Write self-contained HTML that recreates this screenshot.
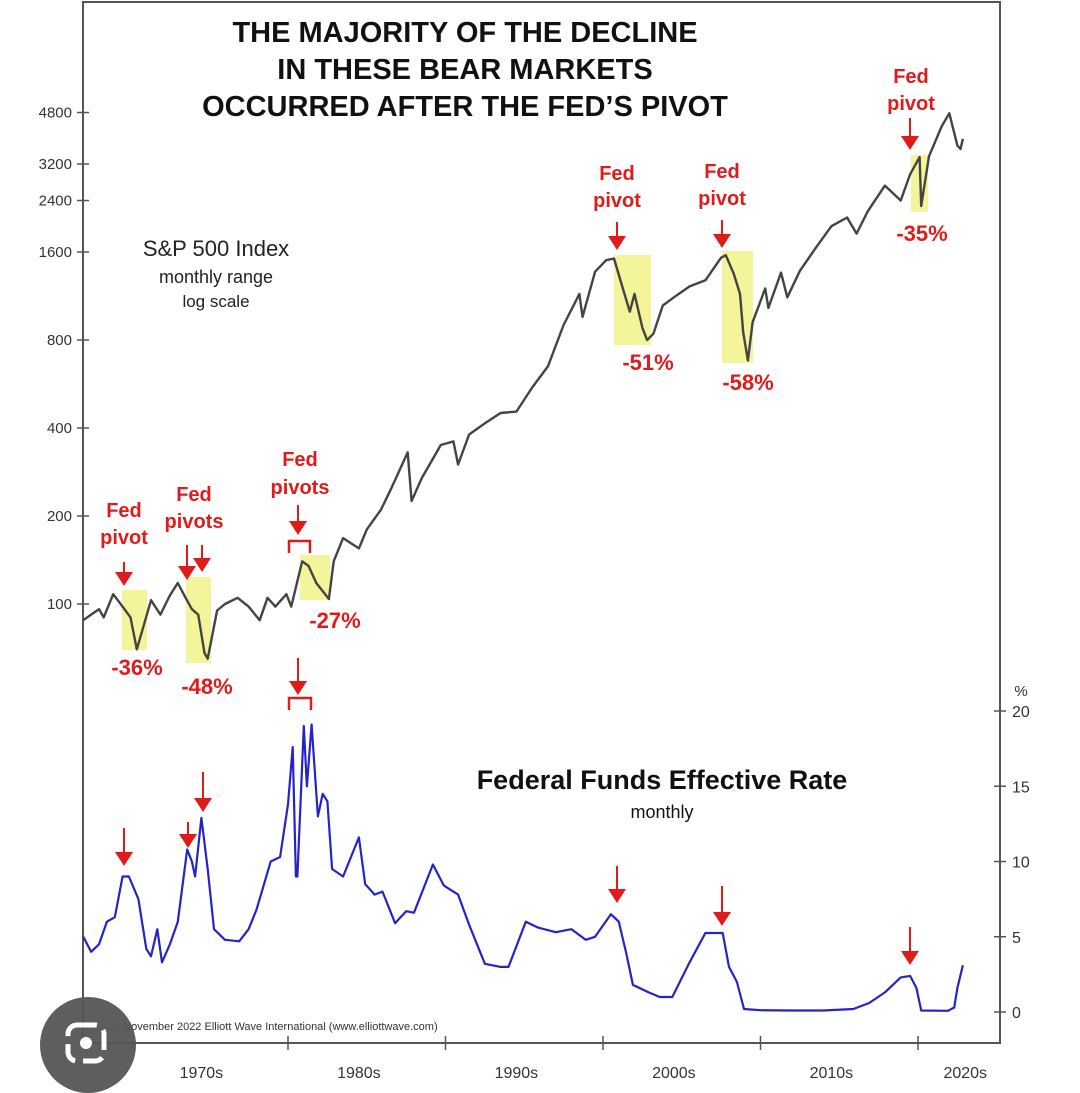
<!DOCTYPE html>
<html><head><meta charset="utf-8">
<style>
body{margin:0;background:#fff;}
svg{display:block;font-family:"Liberation Sans",Arial,sans-serif;}
</style></head>
<body>
<svg id="chart" width="1080" height="1093" viewBox="0 0 1080 1093" xmlns="http://www.w3.org/2000/svg">
<rect x="0" y="0" width="1080" height="1093" fill="#fff"/>
<g id="hl"></g>
<rect x="83" y="2" width="917" height="1041" fill="none" stroke="#555" stroke-width="2"/>
<g font-weight="bold" font-size="29" text-anchor="middle" fill="#111">
<text x="465" y="42">THE MAJORITY OF THE DECLINE</text>
<text x="465" y="79">IN THESE BEAR MARKETS</text>
<text x="465" y="116">OCCURRED AFTER THE FED’S PIVOT</text>
</g>
<g text-anchor="middle" fill="#222">
<text x="216" y="256" font-size="22">S&amp;P 500 Index</text>
<text x="216" y="283" font-size="18">monthly range</text>
<text x="216" y="307" font-size="17">log scale</text>
</g>
<g text-anchor="middle" fill="#111">
<text x="662" y="789" font-size="27" font-weight="bold">Federal Funds Effective Rate</text>
<text x="662" y="818" font-size="18">monthly</text>
</g>
<g id="axes"></g>
<polyline id="spline" fill="none" stroke="#444" stroke-width="2.4" stroke-linejoin="round"/>
<polyline id="ffline" fill="none" stroke="#2424c8" stroke-width="2.2" stroke-linejoin="round"/>
<g id="ann" fill="#e01b1b" font-weight="bold" text-anchor="middle"></g>
<text x="112" y="1030" font-size="11" fill="#333">© November 2022 Elliott Wave International (www.elliottwave.com)</text>
<circle cx="88" cy="1045" r="48" fill="#555" opacity="0.95"/>
<rect x="68" y="1025" width="36" height="36" rx="9" fill="none" stroke="#fff" stroke-width="5" stroke-dasharray="20 8"/>
<circle cx="86" cy="1043" r="6" fill="#fff"/>
</svg>
<script>
const spYears=[1967,1967.5,1968,1968.3,1968.9,1969.5,1970,1970.4,1970.8,1971.3,1971.9,1972.5,1973,1973.5,1973.9,1974.3,1974.7,1974.9,1975.5,1976,1976.8,1977.5,1978.2,1978.7,1979.2,1979.9,1980.2,1980.9,1981.3,1981.8,1982.6,1982.9,1983.5,1984.5,1985,1985.9,1986.5,1987.6,1987.85,1988.5,1989.7,1990.5,1990.8,1991.5,1992.5,1993.5,1994.5,1995.5,1996.5,1997.5,1998.5,1998.7,1999.5,2000.2,2000.7,2001.3,2001.7,2002,2002.5,2002.8,2003.2,2003.8,2004.5,2005.5,2006.5,2007.5,2007.8,2008.3,2008.7,2008.9,2009.2,2009.5,2010.3,2010.5,2011.3,2011.7,2012.5,2013.5,2014.5,2015.5,2016.1,2016.8,2017.9,2018.9,2019.5,2020.1,2020.2,2020.7,2021.5,2021.99,2022.5,2022.7,2022.85];
const spValues=[88,92,96,90,108,98,90,70,83,103,92,107,118,105,96,92,68,65,95,100,105,98,88,105,98,108,98,140,135,118,104,140,168,155,180,210,245,330,225,270,350,360,300,380,415,450,455,550,650,900,1150,960,1370,1500,1520,1180,1000,1150,880,800,840,1050,1120,1220,1280,1530,1560,1350,1150,850,680,920,1200,1030,1360,1120,1380,1650,1960,2100,1850,2200,2700,2400,2950,3380,2300,3400,4300,4770,3700,3600,3900];
const ffYears=[1967,1967.5,1968,1968.5,1969,1969.5,1969.9,1970.5,1971,1971.3,1971.7,1972,1972.5,1973,1973.6,1973.9,1974.1,1974.5,1974.9,1975.3,1976,1976.9,1977.5,1978,1978.9,1979.5,1980,1980.3,1980.5,1980.6,1981,1981.2,1981.5,1981.9,1982.2,1982.5,1982.8,1983.5,1984.5,1984.9,1985.5,1986,1986.8,1987.5,1988,1989.2,1989.9,1990.8,1991.5,1992.5,1993.5,1994,1995.1,1995.9,1997,1998,1998.9,1999.5,2000.5,2001,2001.5,2001.9,2002.9,2003.6,2004.4,2005.5,2006.5,2007.6,2008,2008.5,2008.95,2010,2012,2014,2015.9,2016.9,2017.9,2018.9,2019.5,2019.9,2020.2,2021.9,2022.3,2022.5,2022.85];
const ffValues=[5.0,4.0,4.5,6.0,6.3,9.0,9.0,7.5,4.2,3.7,5.5,3.3,4.5,6.0,10.8,10.0,9.0,12.9,9.5,5.5,4.8,4.7,5.5,6.8,10.0,10.3,13.8,17.6,9.0,9.0,19.0,15,19.1,13,14.5,14,9.5,9.0,11.6,8.5,7.8,8,5.9,6.7,6.6,9.8,8.4,7.8,5.8,3.2,3.0,3.0,6.0,5.6,5.3,5.5,4.8,5.0,6.5,6.0,3.8,1.8,1.3,1.0,1.0,3.3,5.25,5.25,3.0,2.0,0.2,0.12,0.1,0.1,0.2,0.6,1.3,2.3,2.4,1.6,0.1,0.08,0.3,1.6,3.1];
const spTicks=[100,200,400,800,1600,2400,3200,4800];
const ffTicks=[0,5,10,15,20];
const decadeTicks=[1980,1990,2000,2010,2020];
const decadeLabels=["1970s","1980s","1990s","2000s","2010s","2020s"];
const decadeLabelYears=[1974.5,1984.5,1994.5,2004.5,2014.5,2023];

const X=y=>288+(y-1980)*15.75;
const YS=v=>604-88*Math.log2(v/100);
const YF=r=>1012-15.05*r;
const NS="http://www.w3.org/2000/svg";
function mk(tag,attrs,parent){const e=document.createElementNS(NS,tag);for(const k in attrs)e.setAttribute(k,attrs[k]);parent.appendChild(e);return e;}

document.getElementById('spline').setAttribute('points',spYears.map((y,i)=>X(y).toFixed(1)+','+YS(spValues[i]).toFixed(1)).join(' '));
document.getElementById('ffline').setAttribute('points',ffYears.map((y,i)=>X(y).toFixed(1)+','+YF(ffValues[i]).toFixed(1)).join(' '));

const axes=document.getElementById('axes');
spTicks.forEach(v=>{
  const y=YS(v);
  const l=mk('line',{x1:77,x2:89,y1:y,y2:y,stroke:'#555','stroke-width':1.5},axes);
  
  
  const t=mk('text',{x:72,y:y+5,'font-size':15,'text-anchor':'end',fill:'#333'},axes);
  t.textContent=v;
  
  
});
ffTicks.forEach(v=>{
  const y=YF(v);
  const l=mk('line',{x1:994,x2:1006,y1:y,y2:y,stroke:'#555','stroke-width':1.5},axes);
  
  
  const t=mk('text',{x:1012,y:y+6,'font-size':16,fill:'#333'},axes);
  t.textContent=v;
  
  
});
const pc=mk('text',{x:1021,y:696,'font-size':15,'text-anchor':'middle',fill:'#333'},axes);pc.textContent='%';


decadeTicks.forEach(d=>{
  const l=mk('line',{x1:X(d),x2:X(d),y1:1036,y2:1050,stroke:'#555','stroke-width':1.5},axes);
  
  
});
decadeLabels.forEach((s,i)=>{
  const t=mk('text',{x:X(decadeLabelYears[i]),y:1078,'font-size':16,'text-anchor':'middle',fill:'#333'},axes);
  t.textContent=s;
  
  
});

const hl=document.getElementById('hl');
[[122,590,25,60],[186,577,25,86],[300,555,30,45],[614,255,37,90],[722,251,31,112],[911,155,17,57]].forEach(b=>{
  const r=mk('rect',{x:b[0],y:b[1],width:b[2],height:b[3],fill:'#f4f49a'},hl);
  
  
});

const ann=document.getElementById('ann');
function arrow(x,y1,y2){
  const g=mk('g',{},ann);
  
  
  mk('line',{x1:x,x2:x,y1:y1,y2:y2-12,stroke:'#e01b1b','stroke-width':2},g);
  mk('polygon',{points:`${x-9},${y2-14} ${x+9},${y2-14} ${x},${y2}`,fill:'#e01b1b'},g);
}
function txt(x,y,s,fs){const t=mk('text',{x:x,y:y,'font-size':fs},ann);t.textContent=s;
  
  }
function bracket(x1,x2,y){mk('polyline',{points:`${x1},${y+12} ${x1},${y} ${x2},${y} ${x2},${y+12}`,fill:'none',stroke:'#e01b1b','stroke-width':2.5},ann);}
txt(124,517,'Fed',20);txt(124,544,'pivot',20);arrow(124,562,586);
txt(194,501,'Fed',20);txt(194,528,'pivots',20);arrow(187,545,580);arrow(202,545,572);
txt(300,466,'Fed',20);txt(300,494,'pivots',20);arrow(298,505,535);bracket(289,310,541);
txt(617,180,'Fed',20);txt(617,207,'pivot',20);arrow(617,222,250);
txt(722,178,'Fed',20);txt(722,205,'pivot',20);arrow(722,220,248);
txt(911,83,'Fed',20);txt(911,110,'pivot',20);arrow(910,118,150);
txt(137,675,'-36%',22);txt(207,694,'-48%',22);txt(335,628,'-27%',22);
txt(648,370,'-51%',22);txt(748,390,'-58%',22);txt(922,241,'-35%',22);
arrow(124,828,866);arrow(188,822,848);arrow(203,772,812);
arrow(298,658,695);bracket(289,311,698);
arrow(617,866,903);arrow(722,886,926);arrow(910,927,965);
</script>
</body></html>
